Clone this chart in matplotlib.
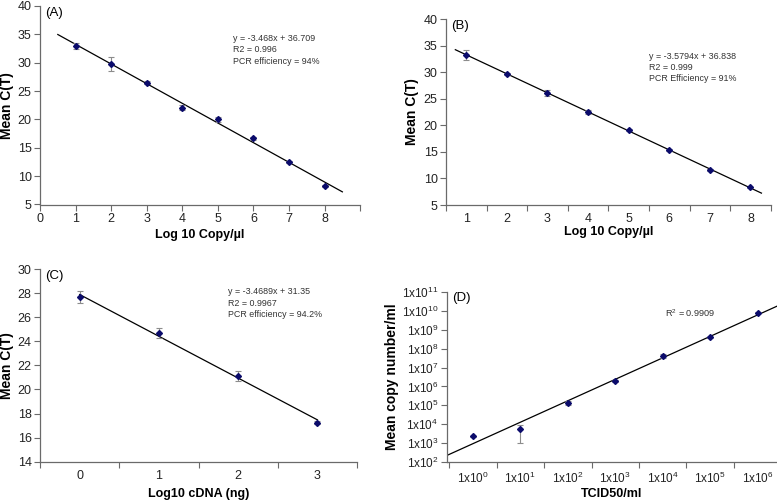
import matplotlib
matplotlib.use("Agg")
import matplotlib.pyplot as plt
import numpy as np

plt.rcParams['font.family'] = ['Liberation Sans', 'DejaVu Sans']
plt.rcParams['mathtext.default'] = 'regular'

# panel A - plasmid standard curve
a_x = [1, 2, 3, 4, 5, 6, 7, 8]
a_ct = [33.0, 29.8, 26.5, 22.1, 20.0, 16.65, 12.5, 8.25]
a_err = [0.5, 1.2, 0.3, 0.5, 0.5, 0.3, 0.15, 0.15]
a_slope, a_icpt = -3.468, 36.709
a_trend = [0.5, 8.5]
a_note = "y = -3.468x + 36.709\nR2 = 0.996\nPCR efficiency = 94%"

# panel B
b_x = [1, 2, 3, 4, 5, 6, 7, 8]
b_ct = [33.2, 29.7, 26.1, 22.55, 19.05, 15.4, 11.6, 8.3]
b_err = [1.0, 0.2, 0.6, 0.4, 0.2, 0.15, 0.2, 0.15]
b_slope, b_icpt = -3.5794, 36.838
b_trend = [0.73, 8.27]
b_note = "y = -3.5794x + 36.838\nR2 = 0.999\nPCR Efficiency = 91%"

# panel C - cDNA dilutions (equation uses category index 1..4)
c_x = [0, 1, 2, 3]
c_ct = [27.65, 24.65, 21.15, 17.25]
c_err = [0.5, 0.42, 0.42, 0.1]
c_slope, c_icpt = -3.4689, 31.35
c_note = "y = -3.4689x + 31.35\nR2 = 0.9967\nPCR efficiency = 94.2%"

# panel D - copy number vs TCID50
d_tcid = [1e0, 1e1, 1e2, 1e3, 1e4, 1e5, 1e6]
d_copy = [2.3e3, 5.4e3, 1.4e5, 2.0e6, 4.0e7, 4.0e8, 8.0e9]
d_lo = [2.1e3, 1.05e3, 1.05e5, 1.8e6, 3.3e7, 3.7e8, 7.3e9]
d_hi = [2.5e3, 9.5e3, 1.7e5, 2.2e6, 5.2e7, 4.4e8, 8.7e9]
d_note = "R$^2$ = 0.9909"

SPINE = '#6a6a6a'
MARK = '#0b0b6b'
ERRC = '#8c8c8c'


def style(ax):
	for s in ['top', 'right']:
		ax.spines[s].set_visible(False)
	for s in ['left', 'bottom']:
		ax.spines[s].set_color(SPINE)
		ax.spines[s].set_linewidth(0.9)
	ax.tick_params(which='both', direction='out', color=SPINE, width=0.8, length=4,
		labelsize=9, labelcolor='#222222', pad=2)


def points(ax, x, y, yerr):
	ax.errorbar(x, y, yerr=yerr, fmt='D', ms=3, color=MARK, ecolor=ERRC,
		elinewidth=0.8, capsize=2, capthick=0.8, zorder=3)


def note(ax, x, y, s):
	ax.text(x, y, s, transform=ax.transAxes, fontsize=6.4, va='top', color='#333333',
		linespacing=1.35)


def labels(ax, xl, yl, xc, yc, tag):
	ax.set_xlabel(xl, fontsize=9, fontweight='bold')
	ax.set_ylabel(yl, fontsize=10, fontweight='bold')
	ax.xaxis.set_label_coords(*xc)
	ax.yaxis.set_label_coords(*yc)
	ax.text(0.015, 0.965, tag, transform=ax.transAxes, fontsize=9.5, va='center', ha='left')


fig = plt.figure(figsize=(7.77, 5), dpi=100)

# A
ax = fig.add_axes([0.0515, 0.591, 0.412, 0.397])
style(ax)
points(ax, a_x, a_ct, a_err)
tx = np.array(a_trend)
ax.plot(tx, a_slope * tx + a_icpt, color='black', lw=0.9)
ax.set_xlim(0, 9)
ax.set_ylim(5, 40)
ax.set_xticks(range(10))
ax.set_xticklabels([str(i) for i in range(9)] + [''])
ax.set_yticks(range(5, 41, 5))
note(ax, 0.602, 0.86, a_note)
labels(ax, 'Log 10 Copy/µl', 'Mean C(T)', (0.5, -0.125), (-0.08, 0.5), '(A)')

# B
ax = fig.add_axes([0.574, 0.59, 0.418, 0.372])
style(ax)
points(ax, b_x, b_ct, b_err)
tx = np.array(b_trend)
ax.plot(tx, b_slope * tx + b_icpt, color='black', lw=0.9)
ax.set_xlim(0.5, 8.5)
ax.set_ylim(5, 40)
ax.set_xticks(b_x)
ax.set_xticks(np.arange(0.5, 9, 1), minor=True)
ax.tick_params(axis='x', which='major', length=0, pad=6)
ax.set_yticks(range(5, 41, 5))
note(ax, 0.626, 0.825, b_note)
labels(ax, 'Log 10 Copy/µl', 'Mean C(T)', (0.5, -0.113), (-0.083, 0.5), '(B)')

# C
ax = fig.add_axes([0.0515, 0.0766, 0.408, 0.3854])
style(ax)
points(ax, c_x, c_ct, c_err)
tx = np.array([c_x[0], c_x[-1]])
ax.plot(tx, c_slope * (tx + 1) + c_icpt, color='black', lw=0.9)
ax.set_xlim(-0.5, 3.5)
ax.set_ylim(14, 30)
ax.set_xticks(c_x)
ax.set_xticks(np.arange(-0.5, 4, 1), minor=True)
ax.tick_params(axis='x', which='major', length=0, pad=6)
ax.set_yticks(range(14, 31, 2))
note(ax, 0.594, 0.905, c_note)
labels(ax, 'Log10 cDNA (ng)', 'Mean C(T)', (0.5, -0.138), (-0.082, 0.5), '(C)')

# D
ax = fig.add_axes([0.575, 0.076, 0.4246, 0.34])
style(ax)
ax.set_xscale('log')
ax.set_yscale('log')
d_y = np.array(d_copy)
yerr = [d_y - np.array(d_lo), np.array(d_hi) - d_y]
points(ax, d_tcid, d_copy, yerr)
k, b0 = np.polyfit(np.log10(d_tcid), np.log10(d_copy), 1)
lx = np.array([-0.55, 6.4])
ax.plot(10 ** lx, 10 ** (k * lx + b0), color='black', lw=0.9)
ax.set_xlim(10 ** -0.55, 10 ** 6.4)
ax.set_ylim(1e2, 1e11)
ax.set_xticks(d_tcid)
ax.set_xticklabels(['1x10$^{%d}$' % i for i in range(7)])
ax.set_xticks(10 ** np.arange(-0.5, 6, 1), minor=True)
ax.xaxis.set_minor_formatter(matplotlib.ticker.NullFormatter())
ax.tick_params(axis='x', which='major', length=0, pad=6)
yt = [10.0 ** i for i in range(2, 12)]
ax.set_yticks(yt)
ax.set_yticklabels(['1x10$^{%d}$' % i for i in range(2, 12)])
ax.yaxis.set_minor_locator(matplotlib.ticker.NullLocator())
ax.tick_params(labelsize=8.5)
ax.text(0.66, 0.876, d_note, transform=ax.transAxes, fontsize=6.6, va='center', color='#333333')
labels(ax, 'TCID50/ml', 'Mean copy number/ml', (0.5, -0.155), (-0.145, 0.5), '(D)')

fig.savefig('out.png', dpi=100)
